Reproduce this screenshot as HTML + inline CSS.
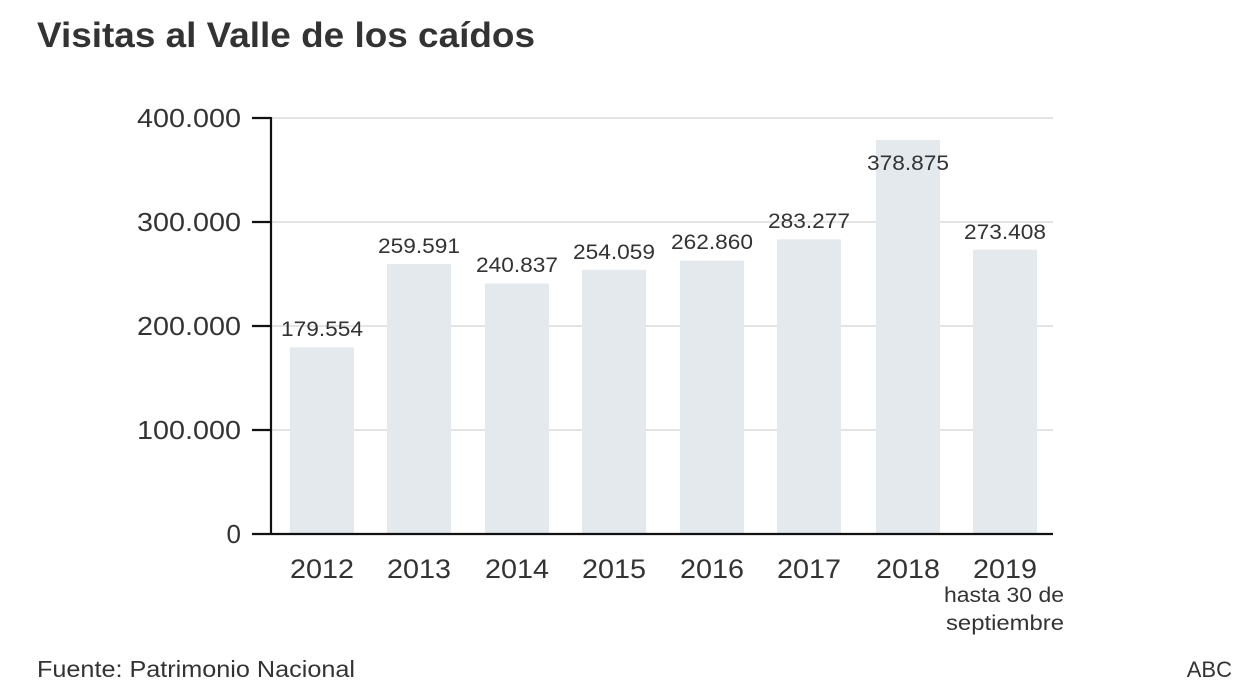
<!DOCTYPE html>
<html><head><meta charset="utf-8"><style>
html,body{margin:0;padding:0;background:#fff;}
svg{display:block;font-family:"Liberation Sans",sans-serif;}
</style></head><body>
<svg width="1248" height="698" viewBox="0 0 1248 698" xmlns="http://www.w3.org/2000/svg">
<rect width="1248" height="698" fill="#fff"/>
<text x="37" y="47" font-size="35" font-weight="bold" fill="#333" textLength="498" lengthAdjust="spacingAndGlyphs">Visitas al Valle de los caídos</text>
<g stroke="#e4e4e4" stroke-width="2">
<line x1="271" y1="118" x2="1053" y2="118"/>
<line x1="271" y1="222" x2="1053" y2="222"/>
<line x1="271" y1="326" x2="1053" y2="326"/>
<line x1="271" y1="430" x2="1053" y2="430"/>
</g>
<g fill="#e3e9ec">
<rect x="290" y="347.3" width="64" height="186.7"/>
<rect x="387" y="264.0" width="64" height="270.0"/>
<rect x="485" y="283.5" width="64" height="250.5"/>
<rect x="582" y="269.8" width="64" height="264.2"/>
<rect x="680" y="260.6" width="64" height="273.4"/>
<rect x="777" y="239.4" width="64" height="294.6"/>
<rect x="876" y="140.0" width="64" height="394.0"/>
<rect x="973" y="249.7" width="64" height="284.3"/>
</g>
<g stroke="#111" stroke-width="2.2">
<line x1="271" y1="117" x2="271" y2="535"/>
<line x1="271" y1="534" x2="1053" y2="534"/>
<line x1="252" y1="118" x2="271" y2="118"/>
<line x1="252" y1="222" x2="271" y2="222"/>
<line x1="252" y1="326" x2="271" y2="326"/>
<line x1="252" y1="430" x2="271" y2="430"/>
<line x1="252" y1="534" x2="271" y2="534"/>
</g>
<g font-size="26" fill="#333" text-anchor="end">
<text x="241" y="127" textLength="104" lengthAdjust="spacingAndGlyphs">400.000</text>
<text x="241" y="231" textLength="104" lengthAdjust="spacingAndGlyphs">300.000</text>
<text x="241" y="335" textLength="104" lengthAdjust="spacingAndGlyphs">200.000</text>
<text x="241" y="439" textLength="104" lengthAdjust="spacingAndGlyphs">100.000</text>
<text x="241" y="543">0</text>
</g>
<g font-size="21" fill="#333" text-anchor="middle">
<text x="322" y="336" textLength="82" lengthAdjust="spacingAndGlyphs">179.554</text>
<text x="419" y="253" textLength="82" lengthAdjust="spacingAndGlyphs">259.591</text>
<text x="517" y="272" textLength="82" lengthAdjust="spacingAndGlyphs">240.837</text>
<text x="614" y="259" textLength="82" lengthAdjust="spacingAndGlyphs">254.059</text>
<text x="712" y="249" textLength="82" lengthAdjust="spacingAndGlyphs">262.860</text>
<text x="809" y="228" textLength="82" lengthAdjust="spacingAndGlyphs">283.277</text>
<text x="908" y="170" textLength="82" lengthAdjust="spacingAndGlyphs">378.875</text>
<text x="1005" y="239" textLength="82" lengthAdjust="spacingAndGlyphs">273.408</text>
</g>
<g font-size="27" fill="#333" text-anchor="middle">
<text x="322" y="578" textLength="64" lengthAdjust="spacingAndGlyphs">2012</text>
<text x="419" y="578" textLength="64" lengthAdjust="spacingAndGlyphs">2013</text>
<text x="517" y="578" textLength="64" lengthAdjust="spacingAndGlyphs">2014</text>
<text x="614" y="578" textLength="64" lengthAdjust="spacingAndGlyphs">2015</text>
<text x="712" y="578" textLength="64" lengthAdjust="spacingAndGlyphs">2016</text>
<text x="809" y="578" textLength="64" lengthAdjust="spacingAndGlyphs">2017</text>
<text x="908" y="578" textLength="64" lengthAdjust="spacingAndGlyphs">2018</text>
<text x="1005" y="578" textLength="64" lengthAdjust="spacingAndGlyphs">2019</text>
</g>
<g font-size="21" fill="#333" text-anchor="middle">
<text x="1004" y="602" textLength="120" lengthAdjust="spacingAndGlyphs">hasta 30 de</text>
<text x="1005" y="630" textLength="118" lengthAdjust="spacingAndGlyphs">septiembre</text>
</g>
<text x="37" y="677" font-size="23" fill="#333" textLength="318" lengthAdjust="spacingAndGlyphs">Fuente: Patrimonio Nacional</text>
<text x="1232" y="677" font-size="22" fill="#333" text-anchor="end">ABC</text>
</svg>
</body></html>
